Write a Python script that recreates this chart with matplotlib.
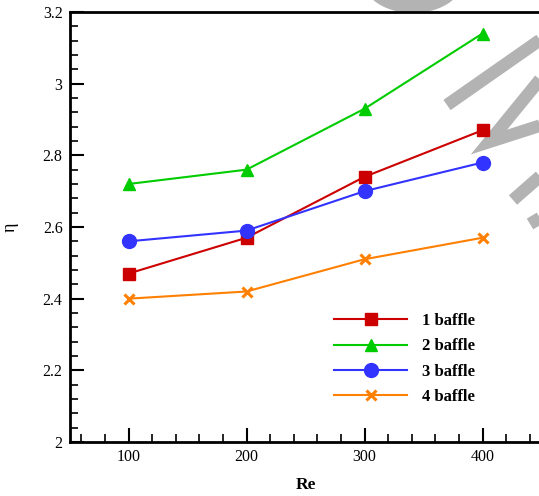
import numpy as np
import matplotlib
matplotlib.use("Agg")
import matplotlib.pyplot as plt
from matplotlib.lines import Line2D
from matplotlib.patches import Polygon

plt.rcParams['font.family'] = ['Liberation Serif', 'DejaVu Serif']

re_values = [100, 200, 300, 400]
baffle1 = [2.47, 2.57, 2.74, 2.87]
baffle2 = [2.72, 2.76, 2.93, 3.14]
baffle3 = [2.56, 2.59, 2.70, 2.78]
baffle4 = [2.40, 2.42, 2.51, 2.57]
series_labels = ['1 baffle', '2 baffle', '3 baffle', '4 baffle']
x_ticks = [100, 200, 300, 400]
y_ticks = [2, 2.2, 2.4, 2.6, 2.8, 3, 3.2]
y_tick_labels = ['2', '2.2', '2.4', '2.6', '2.8', '3', '3.2']

W, H = 539, 496
fig = plt.figure(figsize=(W / 100, H / 100), dpi=100)
fig.patch.set_facecolor('white')

def px(x, y):
    return x / W, 1 - y / H

# watermark-like grey strokes (decoration)
grey = '#b3b3b3'
strokes = [
    [(447, 105), (570, 19)],
    [(560, 55), (489, 142), (570, 116)],
    [(513, 200), (570, 150)],
    [(530, 224), (570, 200)],
]
for s in strokes:
    xs, ys = zip(*[px(*p) for p in s])
    fig.add_artist(Line2D(xs, ys, transform=fig.transFigure, color=grey,
                          lw=9, solid_capstyle='butt', solid_joinstyle='miter', zorder=-1))
t = np.linspace(0, np.pi, 60)
ex = 413 + 50 * np.cos(t)
ey = -20 + 33 * np.sin(t)
fig.add_artist(Polygon([px(a, b) for a, b in zip(ex, ey)], closed=True,
                       transform=fig.transFigure, facecolor=grey, edgecolor='none', zorder=-1))

ax = fig.add_axes([69.5 / W, 1 - 442 / H, 472 / W, 430 / H])
ax.set_facecolor('none')

ax.plot(re_values, baffle1, color='#cc0000', lw=1.5, marker='s', ms=9, label=series_labels[0])
ax.plot(re_values, baffle2, color='#00cc00', lw=1.5, marker='^', ms=9, label=series_labels[1])
ax.plot(re_values, baffle3, color='#3333ff', lw=1.5, marker='o', ms=10, label=series_labels[2])
ax.plot(re_values, baffle4, color='#ff8000', lw=1.5, marker='x', ms=7, mew=2.2, label=series_labels[3])

ax.set_xlim(50, 450)
ax.set_ylim(2, 3.2)
ax.set_xticks(x_ticks)
ax.set_xticks(np.arange(60, 450, 20), minor=True)
ax.set_yticks(y_ticks)
ax.set_yticklabels(y_tick_labels)
ax.set_yticks(np.arange(2.04, 3.2, 0.04), minor=True)
ax.tick_params(which='both', direction='in', labelsize=11.5, width=1.5, colors='black')
ax.tick_params(which='major', length=10, pad=5)
ax.tick_params(which='minor', length=6, width=1.2)
ax.tick_params(top=False, right=False, which='both')
for sp in ax.spines.values():
    sp.set_linewidth(2)
ax.spines['right'].set_visible(False)

ax.set_xlabel('Re', fontsize=12.5, fontweight='bold', labelpad=9)
ax.set_ylabel('η', fontsize=13, labelpad=17)

leg = ax.legend(loc='upper left', bbox_to_anchor=px(334, 313), bbox_transform=fig.transFigure,
                frameon=False, borderpad=0, borderaxespad=0, handlelength=4.4, handletextpad=0.85,
                labelspacing=0.56, prop={'weight': 'bold', 'size': 12})

fig.savefig('out.png', dpi=100)
